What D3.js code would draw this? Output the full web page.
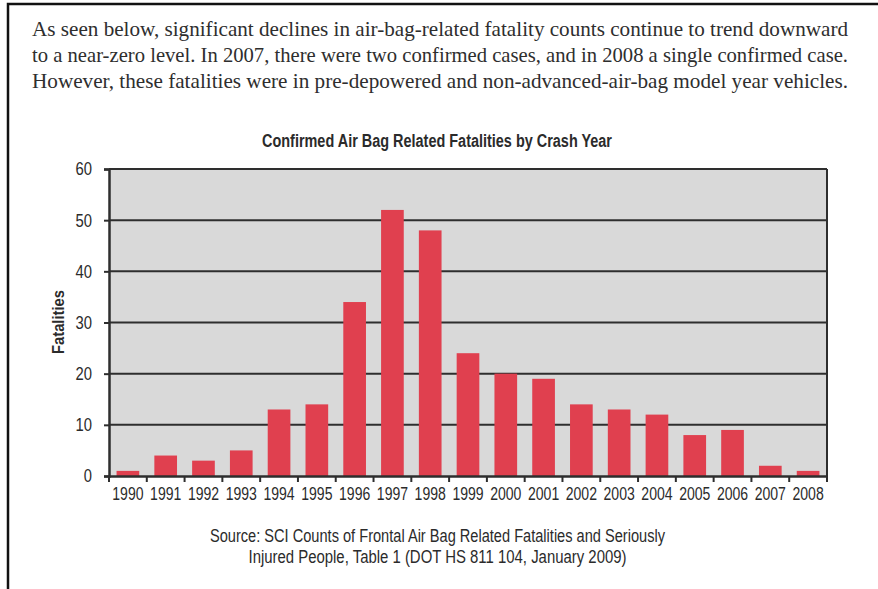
<!DOCTYPE html>
<html>
<head>
<meta charset="utf-8">
<script src="https://cdn.jsdelivr.net/npm/d3@7"></script>
<style>
  html, body { margin: 0; padding: 0; background: #fff; }
  svg { display: block; }
  .narrow { font-family: "Liberation Sans", Arial, sans-serif; }
</style>
</head>
<body>
<svg id="chart" width="878" height="589"></svg>
<script>
// Confirmed air bag related fatalities by crash year
const years = ["1990","1991","1992","1993","1994","1995","1996","1997","1998","1999",
               "2000","2001","2002","2003","2004","2005","2006","2007","2008"];
const fatalities = [1, 4, 3, 5, 13, 14, 34, 52, 48, 24, 20, 19, 14, 13, 12, 8, 9, 2, 1];
const yTicks = [0, 10, 20, 30, 40, 50, 60];

const introLines = [
  "As seen below, significant declines in air-bag-related fatality counts continue to trend downward",
  "to a near-zero level. In 2007, there were two confirmed cases, and in 2008 a single confirmed case.",
  "However, these fatalities were in pre-depowered and non-advanced-air-bag model year vehicles."
];
const chartTitle = "Confirmed Air Bag Related Fatalities by Crash Year";
const yLabel = "Fatalities";
const sourceLines = [
  "Source: SCI Counts of Frontal Air Bag Related Fatalities and Seriously",
  "Injured People, Table 1 (DOT HS 811 104, January 2009)"
];
const sourceWidths = [455, 378];

const svg = d3.select("#chart");
const W = 878, H = 589;
const plot = { left: 109, right: 827, top: 169, bottom: 476 };
const ink = "#2e2e2e";
const textInk = "#2b2b2b";

// narrow sans: squeeze each label to a condensed width
const narrowWidth = (node, perEm) => {
  const len = node.getComputedTextLength();
  node.setAttribute("textLength", (len * perEm).toFixed(1));
  node.setAttribute("lengthAdjust", "spacingAndGlyphs");
};

// page frame
svg.append("path")
  .attr("d", `M8,${H} L8,4 L${W},4`)
  .attr("fill", "none").attr("stroke", "#111").attr("stroke-width", 2.5);

// intro paragraph (justified)
svg.append("g").selectAll("text").data(introLines).join("text")
  .attr("x", 32).attr("y", (d, i) => 36 + i * 26)
  .attr("textLength", 816).attr("lengthAdjust", "spacingAndGlyphs")
  .attr("font-family", "'Liberation Serif', 'DejaVu Serif', serif")
  .attr("font-size", 21).attr("fill", "#2e2e2e")
  .text(d => d);

const x = d3.scaleBand().domain(years).range([plot.left, plot.right]).paddingInner(0.4).paddingOuter(0.2);
const y = d3.scaleLinear().domain([0, 60]).range([plot.bottom, plot.top]);

// plot background
svg.append("rect")
  .attr("x", plot.left).attr("y", plot.top)
  .attr("width", plot.right - plot.left).attr("height", plot.bottom - plot.top)
  .attr("fill", "#d9d9d9");

// horizontal gridlines
svg.append("g").selectAll("line").data(yTicks.filter(t => t > 0)).join("line")
  .attr("x1", plot.left).attr("x2", plot.right)
  .attr("y1", d => y(d)).attr("y2", d => y(d))
  .attr("stroke", ink).attr("stroke-width", 2);

// bars
svg.append("g").selectAll("rect").data(years).join("rect")
  .attr("x", d => x(d))
  .attr("width", x.bandwidth())
  .attr("y", (d, i) => y(fatalities[i]))
  .attr("height", (d, i) => y(0) - y(fatalities[i]))
  .attr("fill", "#e0404f");

// right border
svg.append("line")
  .attr("x1", plot.right).attr("x2", plot.right)
  .attr("y1", plot.top).attr("y2", plot.bottom)
  .attr("stroke", ink).attr("stroke-width", 2);

// y axis
const yAxis = svg.append("g")
  .attr("transform", `translate(${plot.left},0)`)
  .call(d3.axisLeft(y).tickValues(yTicks).tickSize(5).tickPadding(12));
yAxis.select(".domain").attr("stroke", ink).attr("stroke-width", 2.5);
yAxis.selectAll(".tick line").attr("stroke", ink).attr("stroke-width", 2);
yAxis.selectAll(".tick text")
  .attr("class", "narrow").attr("font-size", 18.5).attr("fill", textInk)
  .each(function () { narrowWidth(this, 0.8); });

// x axis: ticks at band boundaries
const xAxis = svg.append("g")
  .attr("transform", `translate(0,${plot.bottom})`)
  .call(d3.axisBottom(x).tickSize(0).tickPadding(11));
xAxis.select(".domain").attr("stroke", ink).attr("stroke-width", 2.5);
xAxis.selectAll(".tick text")
  .attr("class", "narrow").attr("font-size", 18).attr("fill", textInk)
  .each(function () { narrowWidth(this, 0.78); });
const step = x.step();
const bounds = d3.range(years.length + 1).map(i => plot.left + i * step);
xAxis.append("g").selectAll("line").data(bounds).join("line")
  .attr("x1", d => d).attr("x2", d => d)
  .attr("y1", 0).attr("y2", 6)
  .attr("stroke", ink).attr("stroke-width", 2);

// chart title
svg.append("text")
  .attr("class", "narrow")
  .attr("x", 437).attr("y", 147)
  .attr("text-anchor", "middle")
  .attr("font-size", 17.5).attr("font-weight", "bold").attr("fill", textInk)
  .attr("textLength", 350).attr("lengthAdjust", "spacingAndGlyphs")
  .text(chartTitle);

// y axis label
svg.append("text")
  .attr("class", "narrow")
  .attr("transform", `translate(64,322) rotate(-90)`)
  .attr("text-anchor", "middle")
  .attr("font-size", 16.5).attr("font-weight", "bold").attr("fill", textInk)
  .attr("textLength", 64).attr("lengthAdjust", "spacingAndGlyphs")
  .text(yLabel);

// source note
svg.append("g").selectAll("text").data(sourceLines).join("text")
  .attr("class", "narrow")
  .attr("x", 437.5).attr("y", (d, i) => 542 + i * 21)
  .attr("text-anchor", "middle")
  .attr("font-size", 17.5).attr("fill", textInk)
  .attr("textLength", (d, i) => sourceWidths[i]).attr("lengthAdjust", "spacingAndGlyphs")
  .text(d => d);
</script>
</body>
</html>
